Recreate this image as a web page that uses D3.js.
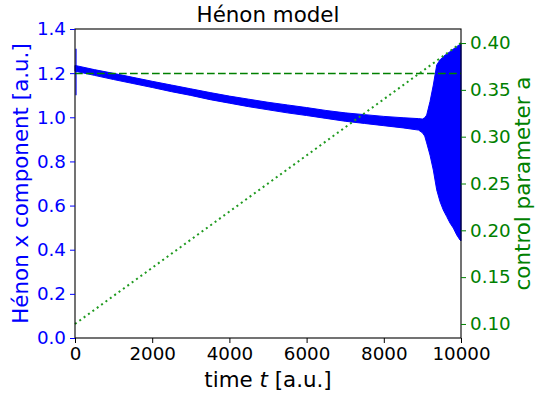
<!DOCTYPE html>
<html>
<head>
<meta charset="utf-8">
<script src="https://cdn.jsdelivr.net/npm/d3@7"></script>
<style>
  body { margin: 0; background: #fff; }
  svg { font-family: "DejaVu Sans", sans-serif; }
</style>
</head>
<body>
<div class="chart"></div>
<script>
// envelope of the noisy x component
const timeT = [0, 500, 1000, 1500, 2000, 2500, 3000, 3500, 4000, 4500, 5000, 5500, 6000, 6500,
  7000, 7500, 8000, 8500, 8900, 9000, 9060, 9111, 9197, 9283, 9371, 9456, 9541, 9630, 9715,
  9801, 9889, 9974, 10000]
const xUpper = [1.235, 1.216, 1.199, 1.181, 1.163, 1.146, 1.129, 1.112, 1.096, 1.082, 1.068, 1.056,
  1.044, 1.031, 1.020, 1.012, 1.004, 0.998, 0.994, 0.992, 0.998, 1.010, 1.071, 1.146, 1.237,
  1.260, 1.275, 1.287, 1.297, 1.309, 1.320, 1.331, 1.334]
const xLower = [1.209, 1.190, 1.171, 1.153, 1.135, 1.116, 1.099, 1.080, 1.064, 1.048, 1.034, 1.020,
  1.008, 0.995, 0.982, 0.972, 0.962, 0.952, 0.942, 0.930, 0.915, 0.884, 0.829, 0.761, 0.671,
  0.618, 0.580, 0.550, 0.521, 0.498, 0.467, 0.444, 0.440]
// initial transient at t = 0
const transientT = [0, 0]
const transientX = [1.10, 1.31]

// control parameter ramp and critical value
const rampT = [0, 10000]
const rampA = [0.1, 0.4]
const aCritical = 0.3675

const xTicks = [0, 2000, 4000, 6000, 8000, 10000]
const yLeftTicks = [0.0, 0.2, 0.4, 0.6, 0.8, 1.0, 1.2, 1.4]
const yRightTicks = [0.10, 0.15, 0.20, 0.25, 0.30, 0.35, 0.40]

let width = 535
let height = 394
let margin = {top: 29, right: 74, bottom: 56, left: 75}
const blue = "#0000ff"
const green = "#008000"
const tickSize = 18.3
const labelSize = 21.4

const svg = d3.select('.chart').append("svg")
  .attr("width", width)
  .attr("height", height)

let x = d3.scaleLinear()
  .domain([0, 10000])
  .range([margin.left, width - margin.right])

let y = d3.scaleLinear()
  .domain([0, 1.4])
  .range([height - margin.bottom, margin.top])

let y2 = d3.scaleLinear()
  .domain([0.085, 0.415])
  .range([height - margin.bottom, margin.top])

let band = timeT.map((t, i) => ({t: t, hi: xUpper[i], lo: xLower[i]}))

let area = d3.area()
  .x(d => x(d.t))
  .y0(d => y(d.lo))
  .y1(d => y(d.hi))

svg.append("path")
    .datum(band)
    .attr("fill", blue)
    .attr("stroke", blue)
    .attr("stroke-width", 1)
    .attr("d", area)

svg.append("path")
    .datum(transientT.map((t, i) => [t, transientX[i]]))
    .attr("fill", "none")
    .attr("stroke", blue)
    .attr("stroke-width", 1.2)
    .attr("d", d3.line().x(d => x(d[0]) + 1).y(d => y(d[1])))

// second axis lines
svg.append("line")
    .attr("x1", x(0)).attr("x2", x(10000))
    .attr("y1", y2(aCritical)).attr("y2", y2(aCritical))
    .attr("stroke", green)
    .attr("stroke-width", 1.5)
    .attr("stroke-dasharray", "7.7,3.3")

svg.append("path")
    .datum(rampT.map((t, i) => [t, rampA[i]]))
    .attr("fill", "none")
    .attr("stroke", "#1f9a1f")
    .attr("stroke-width", 2)
    .attr("stroke-dasharray", "2,3.4")
    .attr("d", d3.line().x(d => x(d[0])).y(d => y2(d[1])))

// frame
svg.append("rect")
    .attr("x", x(0)).attr("y", margin.top)
    .attr("width", x(10000) - x(0))
    .attr("height", height - margin.bottom - margin.top)
    .attr("fill", "none")
    .attr("stroke", "#000")
    .attr("stroke-width", 1.1)

let xAxis = g => g
  .attr("transform", `translate(0,${height - margin.bottom})`)
  .call(d3.axisBottom(x).tickValues(xTicks).tickFormat(d3.format("d")).tickSize(5).tickPadding(4))
  .call(g => g.select(".domain").remove())
  .call(g => g.selectAll("text").attr("fill", "#000").attr("font-size", tickSize).attr("font-family", "DejaVu Sans"))

let yAxis = g => g
  .attr("transform", `translate(${margin.left},0)`)
  .call(d3.axisLeft(y).tickValues(yLeftTicks).tickFormat(d3.format(".1f")).tickSize(5).tickPadding(4))
  .call(g => g.select(".domain").remove())
  .call(g => g.selectAll("line").attr("stroke", blue))
  .call(g => g.selectAll("text").attr("fill", blue).attr("font-size", tickSize).attr("font-family", "DejaVu Sans"))

let y2Axis = g => g
  .attr("transform", `translate(${width - margin.right},0)`)
  .call(d3.axisRight(y2).tickValues(yRightTicks).tickFormat(d3.format(".2f")).tickSize(5).tickPadding(4))
  .call(g => g.select(".domain").remove())
  .call(g => g.selectAll("line").attr("stroke", green))
  .call(g => g.selectAll("text").attr("fill", green).attr("font-size", tickSize).attr("font-family", "DejaVu Sans"))

svg.append("g").call(xAxis)
svg.append("g").call(yAxis)
svg.append("g").call(y2Axis)

svg.append("text")
    .attr("x", (x(0) + x(10000)) / 2)
    .attr("y", 22)
    .attr("text-anchor", "middle")
    .attr("font-size", labelSize)
    .text("Hénon model")

let xLabel = svg.append("text")
    .attr("x", (x(0) + x(10000)) / 2)
    .attr("y", 387)
    .attr("text-anchor", "middle")
    .attr("font-size", labelSize)
xLabel.append("tspan").text("time ")
xLabel.append("tspan").attr("font-style", "italic").text("t")
xLabel.append("tspan").text(" [a.u.]")

svg.append("text")
    .attr("transform", `translate(28,${(margin.top + height - margin.bottom) / 2}) rotate(-90)`)
    .attr("text-anchor", "middle")
    .attr("fill", blue)
    .attr("font-size", labelSize)
    .text("Hénon x component [a.u.]")

svg.append("text")
    .attr("transform", `translate(530,${(margin.top + height - margin.bottom) / 2}) rotate(-90)`)
    .attr("text-anchor", "middle")
    .attr("fill", green)
    .attr("font-size", labelSize)
    .text("control parameter a")
</script>
</body>
</html>
